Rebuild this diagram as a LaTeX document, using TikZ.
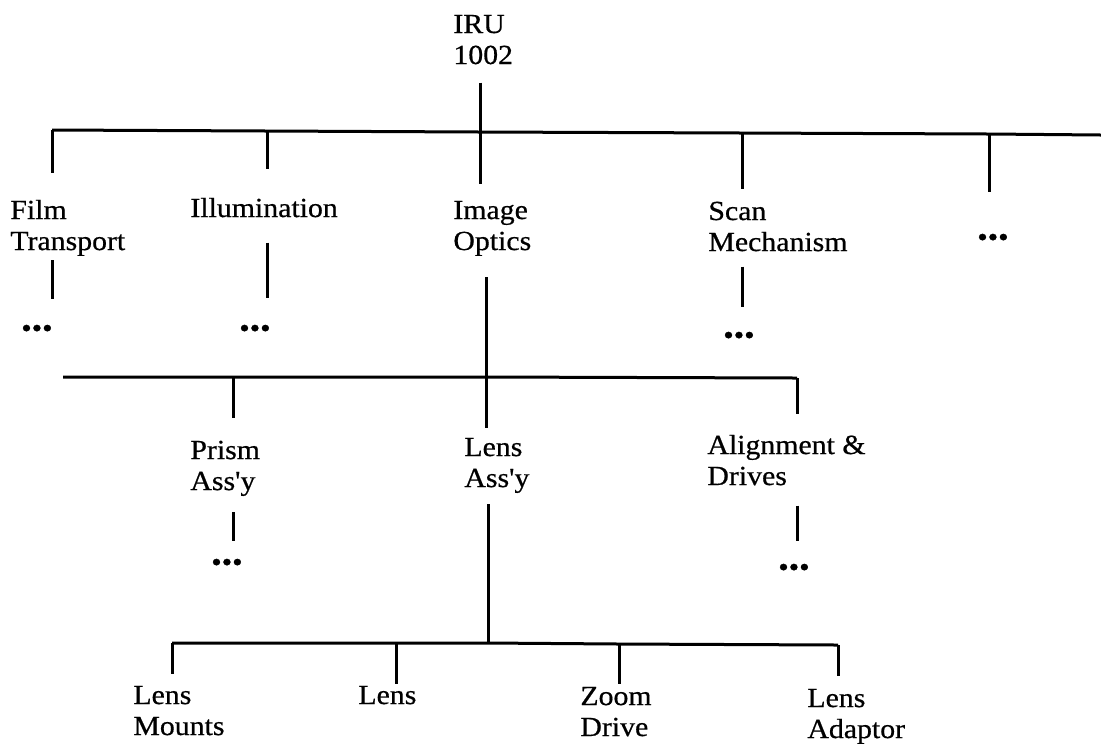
\documentclass[tikz,border=0pt]{standalone}
\usepackage{fontspec}
\setmainfont{Liberation Serif}[FakeStretch=1.08,FakeBold=0.6,Ligatures=TeXOff]

\tikzset{
  lbl/.style={anchor=base west, align=left, inner sep=0pt, font=\fontsize{13.8}{15.5}\selectfont},
  dots/.style={anchor=east, inner sep=0pt, font=\fontsize{13.8}{15.5}\selectfont},
  tree/.style={line width=1.5pt},
}

\begin{document}
\begin{tikzpicture}[x=0.5pt,y=0.5pt,yscale=-1,xscale=1]
\useasboundingbox (0,0) rectangle (1101,746);

% top level (labels sit on the baseline of their last line)
\draw (453,64) node (iru) [lbl] {IRU\\1002};
\draw (10,250) node (film) [lbl] {Film\\Transport};
\draw (190,217) node (illum) [lbl] {Illumination};
\draw (453,250) node (image) [lbl] {Image\\Optics};
\draw (708,251) node (scan) [lbl] {Scan\\Mechanism};
\draw (1009,240) node (more) [dots] {•••};
\draw (53,331) node (film-dots) [dots] {•••};
\draw (271,331) node (illum-dots) [dots] {•••};
\draw (755,338) node (scan-dots) [dots] {•••};

\coordinate (t-film) at (52,130);
\coordinate (t-illum) at (267,131);
\coordinate (t-image) at (480,132);
\coordinate (t-scan) at (742,133);
\coordinate (t-more) at (989,134);
\coordinate (t-end) at (1101,135);

\draw [tree] (t-film) -- (t-illum) -- (t-image) -- (t-scan) -- (t-more) -- (t-end);
\draw [tree, shorten <=9pt, shorten >=8.5pt] (iru.south -| t-image) -- (t-image |- image.north);
\draw [tree, shorten >=13pt] (t-film) -- (t-film |- film.north);
\draw [tree, shorten >=14pt] (t-illum) -- (t-illum |- illum.north);
\draw [tree, shorten >=6pt] (t-scan) -- (t-scan |- scan.north);
\draw [tree, shorten >=20.5pt] (t-more) -- (t-more |- more.north);

\draw [tree, shorten <=2pt, shorten >=12.5pt] (film.south -| t-film) -- (t-film |- film-dots.north);
\draw [tree, shorten <=12.5pt, shorten >=13pt] (illum.south -| t-illum) -- (t-illum |- illum-dots.north);
\draw [tree, shorten <=7.5pt, shorten >=12pt] (scan.south -| t-scan) -- (t-scan |- scan-dots.north);

% optics breakdown
\draw (190,490) node (prism) [lbl] {Prism\\Ass'y};
\draw (464,487) node (lens-assy) [lbl] {Lens\\Ass'y};
\draw (707,485) node (align) [lbl] {Alignment \&\\Drives};
\draw (243,565) node (prism-dots) [dots] {•••};
\draw (810,570) node (align-dots) [dots] {•••};

\coordinate (m-left) at (63,377);
\coordinate (m-prism) at (233,377);
\coordinate (m-lens) at (486,377);
\coordinate (m-align) at (797,378);

\draw [tree, shorten <=10.5pt] (image.south -| m-lens) -- (m-lens);
\draw [tree] (m-left) -- (m-prism) -- (m-lens) -- (m-align);
\draw [tree, shorten >=11pt] (m-prism) -- (m-prism |- prism.north);
\draw [tree, shorten >=5pt] (m-lens) -- (m-lens |- lens-assy.north);
\draw [tree, shorten >=10pt] (m-align) -- (m-align |- align.north);
\draw [tree, shorten <=8pt, shorten >=8.5pt] (prism.south -| m-prism) -- (m-prism |- prism-dots.north);
\draw [tree, shorten <=10pt, shorten >=11pt] (align.south -| m-align) -- (m-align |- align-dots.north);

% lens assembly breakdown
\draw (133,735) node (mounts) [lbl] {Lens\\Mounts};
\draw (358,704) node (lens) [lbl] {Lens};
\draw (580,736) node (zoom) [lbl] {Zoom\\Drive};
\draw (807,738) node (adaptor) [lbl] {Lens\\Adaptor};

\coordinate (b-mounts) at (172,643);
\coordinate (b-lens) at (396,643);
\coordinate (b-assy) at (488,643);
\coordinate (b-zoom) at (619,644);
\coordinate (b-adaptor) at (838,645);

\draw [tree, shorten <=5.5pt] (lens-assy.south -| b-assy) -- (b-assy);
\draw [tree] (b-mounts) -- (b-lens) -- (b-assy) -- (b-zoom) -- (b-adaptor);
\draw [tree, shorten >=6pt] (b-mounts) -- (b-mounts |- mounts.north);
\draw [tree, shorten >=1pt] (b-lens) -- (b-lens |- lens.north);
\draw [tree, shorten >=1.5pt] (b-zoom) -- (b-zoom |- zoom.north);
\draw [tree, shorten >=6.5pt] (b-adaptor) -- (b-adaptor |- adaptor.north);

\end{tikzpicture}
\end{document}
